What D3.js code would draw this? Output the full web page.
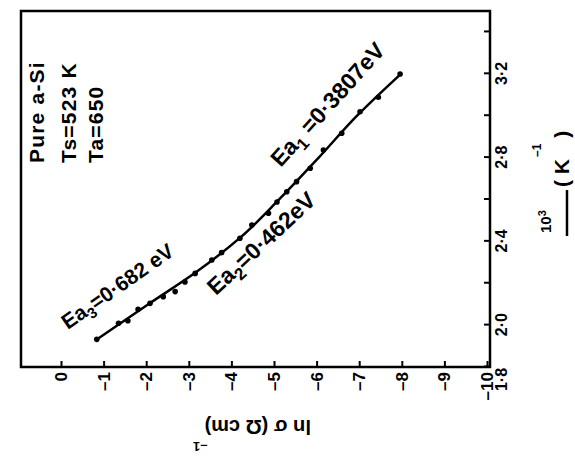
<!DOCTYPE html>
<html>
<head>
<meta charset="utf-8">
<script src="https://cdn.jsdelivr.net/npm/d3@7"></script>
<style>
body { margin: 0; background: #fff; }
svg { display: block; }
text { font-family: "Liberation Sans", Arial, sans-serif; font-weight: bold; fill: #000; }
</style>
</head>
<body>
<svg id="chart" width="575" height="466"></svg>
<script>
var invT = [1.932, 2.009, 2.021, 2.076, 2.104, 2.136, 2.160, 2.206, 2.247, 2.311, 2.346, 2.415,
            2.478, 2.534, 2.588, 2.637, 2.685, 2.749, 2.836, 2.916, 3.019, 3.088, 3.199];
var lnSigma = [-0.84, -1.35, -1.57, -1.81, -2.09, -2.40, -2.68, -2.91, -3.15, -3.54, -3.77, -4.20,
               -4.48, -4.87, -5.07, -5.30, -5.53, -5.85, -6.16, -6.59, -7.02, -7.45, -7.96];

// the hand drawn fit through them
var fitT = [1.93, 2.10, 2.25, 2.42, 2.60, 2.80, 3.00, 3.20];
var fitLn = [-0.83, -2.05, -3.15, -4.22, -5.12, -6.05, -6.95, -7.98];

var lnTicks = [0, -1, -2, -3, -4, -5, -6, -7, -8, -9, -10];
var tTicks = [1.8, 2.0, 2.2, 2.4, 2.6, 2.8, 3.0, 3.2, 3.4];
var tLabelled = ["1.8", "2.0", "2.4", "2.8", "3.2"];

var energySubs = ["3", "2", "1"];
var energyValues = ["=0·682 eV", "=0·462eV", " =0·3807eV"];
var sampleLines = ["Pure  a-Si", "Ts=523 K", "Ta=650"];

var W = 575, H = 466;
var svg = d3.select("#chart");
svg.append("rect").attr("width", W).attr("height", H).attr("fill", "#fff");

// the figure is printed a quarter turn round, so draw it upright and turn the group
var g = svg.append("g").attr("transform", "translate(0," + H + ") rotate(-90)");

var frame = {left: 99, right: 455, top: 21, bottom: 490};
var x = d3.scaleLinear().domain([1.8, 3.5]).range([frame.left, frame.right]);
var y = d3.scaleLinear().domain([0, -10]).range([61, 487]);

g.append("rect")
  .attr("x", frame.left).attr("y", frame.top)
  .attr("width", frame.right - frame.left).attr("height", frame.bottom - frame.top)
  .attr("fill", "none").attr("stroke", "#000").attr("stroke-width", 2.5);

var yAxis = g.append("g")
  .attr("transform", "translate(" + frame.left + ",0)")
  .call(d3.axisLeft(y).tickValues(lnTicks).tickSizeInner(-6).tickSizeOuter(0).tickPadding(5)
    .tickFormat(function(d) { return d === 0 ? "0" : "–" + (-d); }));
yAxis.select(".domain").remove();
yAxis.attr("font-size", 17);
yAxis.selectAll(".tick line").attr("stroke-width", 2);

var xAxis = g.append("g")
  .attr("transform", "translate(0," + frame.bottom + ")")
  .call(d3.axisBottom(x).tickValues(tTicks).tickSizeInner(-6).tickSizeOuter(0).tickPadding(6)
    .tickFormat(function(d) {
      var s = d.toFixed(1);
      return tLabelled.indexOf(s) >= 0 ? s.replace(".", "·") : "";
    }));
xAxis.select(".domain").remove();
xAxis.attr("font-size", 16);
xAxis.selectAll(".tick line").attr("stroke-width", 2);
xAxis.selectAll(".tick text").filter(function(d) { return d === 1.8; }).attr("dx", -13);

// axis titles
var yTitle = g.append("text")
  .attr("transform", "translate(46,252) rotate(-90)")
  .attr("text-anchor", "middle").attr("font-size", 20);
yTitle.append("tspan").text("ln σ (Ω cm)");
yTitle.append("tspan").attr("font-size", 13).attr("dx", -3).attr("dy", -22).text("–1");

var xTitle = g.append("g");
var num = xTitle.append("text").attr("x", 233).attr("y", 551).attr("font-size", 15);
num.append("tspan").text("10");
num.append("tspan").attr("font-size", 11).attr("dy", "-0.5em").text("3");
xTitle.append("line")
  .attr("x1", 230).attr("x2", 276).attr("y1", 567).attr("y2", 567)
  .attr("stroke", "#000").attr("stroke-width", 2.5);
var unit = xTitle.append("text").attr("x", 279).attr("y", 569).attr("font-size", 21);
unit.append("tspan").text("( K");
unit.append("tspan").attr("font-size", 12).attr("dx", 2).attr("dy", -28).text("–1");
unit.append("tspan").attr("dy", 28).text(" )");

// fit line and points
var line = d3.line()
  .x(function(d) { return x(d[0]); })
  .y(function(d) { return y(d[1]); })
  .curve(d3.curveMonotoneX);

g.append("path")
  .datum(d3.zip(fitT, fitLn))
  .attr("d", line)
  .attr("fill", "none").attr("stroke", "#000").attr("stroke-width", 2.5);

g.selectAll("circle.pt")
  .data(d3.zip(invT, lnSigma))
  .enter().append("circle")
  .attr("class", "pt")
  .attr("cx", function(d) { return x(d[0]); })
  .attr("cy", function(d) { return y(d[1]); })
  .attr("r", 2.8)
  .attr("fill", "#000");

// activation energy labels along the three stretches: [10^3/T, ln sigma, angle, size]
var energyAt = [[1.977, -0.16, 55, 21], [2.139, -3.64, 47, 23], [2.750, -5.16, 42, 23]];
energyAt.forEach(function(a, i) {
  var t = g.append("text")
    .attr("transform", "translate(" + x(a[0]) + "," + y(a[1]) + ") rotate(" + a[2] + ")")
    .attr("font-size", a[3]);
  t.append("tspan").text("Ea");
  t.append("tspan").attr("font-size", a[3] - 6).attr("dy", "0.35em").text(energySubs[i]);
  t.append("tspan").attr("dy", "-0.25em").text(energyValues[i]);
});

// sample description, top left
var sampleX = [44, 76, 103];
sampleLines.forEach(function(s, i) {
  g.append("text")
    .attr("x", H - 163).attr("y", sampleX[i])
    .attr("font-size", 21).attr("letter-spacing", 1.2)
    .text(s);
});
</script>
</body>
</html>
